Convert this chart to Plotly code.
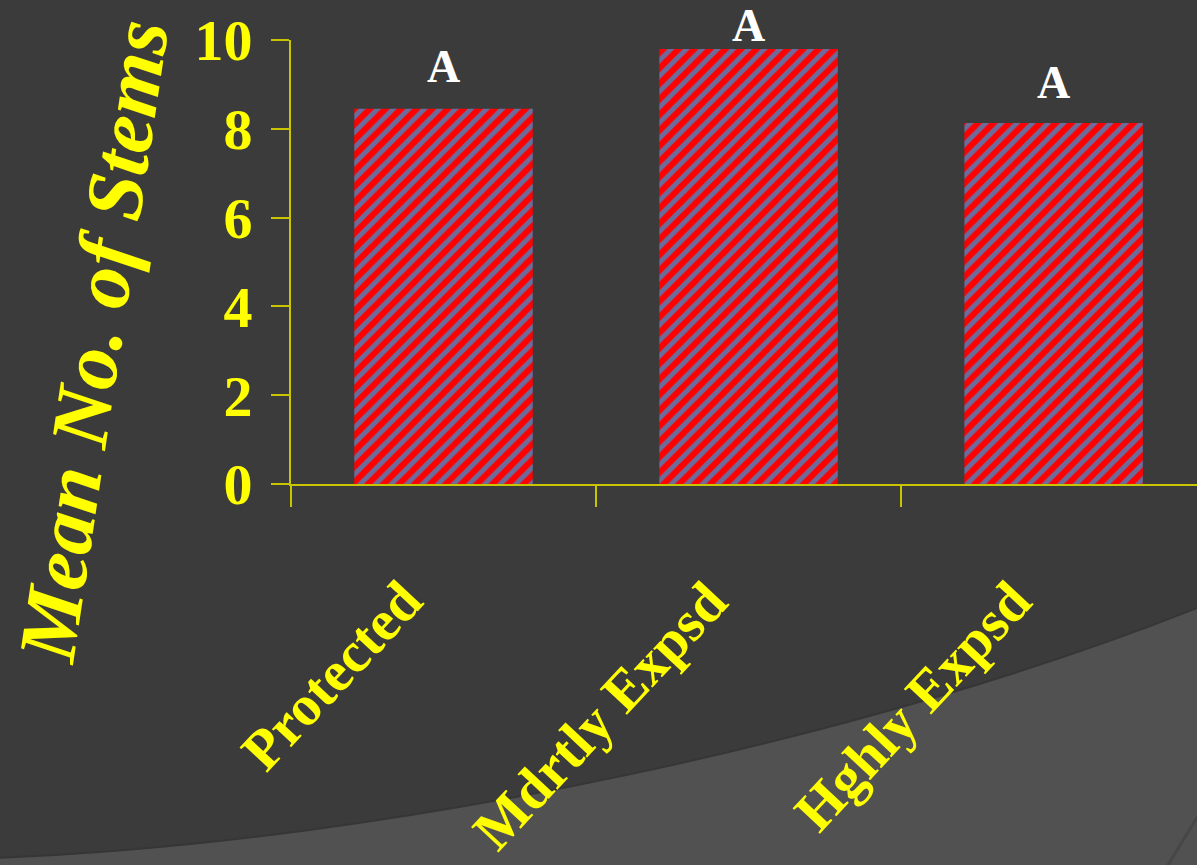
import plotly.graph_objects as go

categories = ["Protected", "Mdrtly Expsd", "Hghly Expsd"]
mean_stems = [8.45, 9.8, 8.13]
letters = ["A", "A", "A"]
y_ticks = [0, 2, 4, 6, 8, 10]

# pixel offsets of the significance letters above bar tops (styling)
letter_shift = [42, 23, 41]

W, H = 1197, 865
ML, MR, MT, MB = 291, 0, 40, 381
PW, PH = W - ML - MR, H - MT - MB


def px(x):
    return (x - ML) / PW


def py(y):
    return (H - MB - y) / PH


YEL = "#ffff00"
AXC = "#c8c400"
SERIF = "Liberation Serif"

fig = go.Figure()
fig.add_trace(go.Bar(
    x=categories, y=mean_stems, width=0.585,
    marker=dict(color="#ff0000", line=dict(width=0),
                pattern=dict(shape="/", fgcolor="#6c6c9c", bgcolor="#ff0000",
                             size=11, solidity=0.45, fillmode="replace")),
    showlegend=False, hoverinfo="skip",
))

for c, t, v, s in zip(categories, letters, mean_stems, letter_shift):
    fig.add_annotation(x=c, y=v, yshift=s, text=t, showarrow=False, xanchor="center", yanchor="middle",
                       font=dict(family=SERIF, size=46, color="#ffffff", weight="bold"))

# rotated category labels
for c in categories:
    fig.add_annotation(x=c, y=0, xshift=-7, yshift=-82, text=c, showarrow=False,
                       textangle=-47, xanchor="right", yanchor="top",
                       font=dict(family=SERIF, size=57, color=YEL, weight="bold"))

fig.add_annotation(xref="paper", yref="paper", x=px(93), y=py(342), text="Mean No. of Stems",
                   showarrow=False, textangle=-81.5, xanchor="center", yanchor="middle",
                   font=dict(family=SERIF, size=82, color=YEL, weight="bold", style="italic"))


# background lighter swoosh
def pt(x, y):
    return f"{px(x):.4f},{py(y):.4f}"


path = (f"M {pt(-5, 870)} L {pt(-5, 858)} C {pt(400, 842)} {pt(880, 735)} {pt(1202, 606)} "
        f"L {pt(1202, 870)} Z")
fig.add_shape(type="path", xref="paper", yref="paper", path=path, layer="below",
              fillcolor="#515151", line=dict(color="#363636", width=2))
path2 = f"M {pt(1165, 870)} C {pt(1180, 845)} {pt(1192, 825)} {pt(1202, 810)}"
fig.add_shape(type="path", xref="paper", yref="paper", path=path2, layer="below",
              line=dict(color="#474747", width=3))

fig.update_layout(
    width=W, height=H,
    margin=dict(l=ML, r=MR, t=MT, b=MB, pad=0),
    paper_bgcolor="#3b3b3b", plot_bgcolor="rgba(0,0,0,0)",
    xaxis=dict(type="category", categoryorder="array", categoryarray=categories,
               range=[-0.5, 2.47], showgrid=False, zeroline=False,
               showline=True, linecolor=AXC, linewidth=2,
               ticks="outside", tickson="boundaries", ticklen=21, tickwidth=2, tickcolor=AXC,
               showticklabels=False),
    yaxis=dict(range=[0, 10], tickvals=y_ticks, showgrid=False, zeroline=False,
               showline=True, linecolor=AXC, linewidth=2,
               ticks="outside", ticklen=18, tickwidth=2, tickcolor=AXC,
               ticklabelstandoff=7,
               tickfont=dict(family=SERIF, size=58, color=YEL, weight="bold")),
)

fig.write_html("out.html")
